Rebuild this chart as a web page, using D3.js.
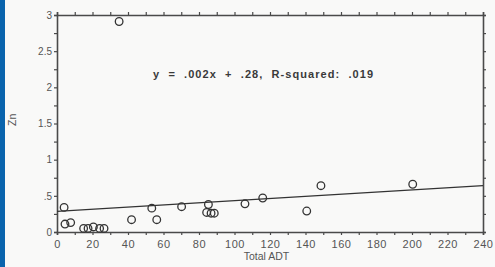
<!DOCTYPE html>
<html>
<head>
<meta charset="utf-8">
<script src="https://cdn.jsdelivr.net/npm/d3@7"></script>
<style>
  body { margin: 0; background: #fff; }
  svg { display: block; font-family: "Liberation Sans", Arial, sans-serif; }
</style>
</head>
<body>
<div class="drawBoard"></div>
<script>
// data
const adt = [35, 4, 4.5, 7.7, 15, 17.5, 20.5, 24, 26.5, 42, 53.4, 56.2, 70.2, 85.3, 84.3, 86.8, 88.6, 105.9, 115.9, 140.7, 148.7, 200.4];
const zn  = [2.91, .34, .11, .13, .05, .05, .07, .05, .05, .17, .33, .17, .35, .38, .27, .26, .26, .39, .47, .29, .64, .66];
const fitX = [0, 240];
const fitY = [.285, .64];
const xTicks = [0, 20, 40, 60, 80, 100, 120, 140, 160, 180, 200, 220, 240];
const yTicks = [0, .5, 1, 1.5, 2, 2.5, 3];
const yTickLabels = ['0', '.5', '1', '1.5', '2', '2.5', '3'];
const note = 'y  =  .002x  +  .28,  R-squared:  .019';

const W = 495, H = 267;
const padL = 57, padR = 483, padT = 15, padB = 232;

const svg = d3.select('.drawBoard').append('svg')
    .attr('width', W)
    .attr('height', H);

svg.append('rect').attr('width', W).attr('height', H).attr('fill', '#f9f9f8');
// blue strip on the left edge of the scan
svg.append('rect').attr('width', 5).attr('height', H).attr('fill', '#0a64ad');

const x = d3.scaleLinear().domain([0, 240]).range([padL, padR]);
const y = d3.scaleLinear().domain([0, 3]).range([padB, padT]);

const ink = '#4a4a4a';
const minorX = d3.range(0, 241, 10);
const minorY = d3.range(0, 3.01, .25);

// bottom axis
const gx = svg.append('g').attr('transform', `translate(0,${padB})`)
    .call(d3.axisBottom(x).tickValues(minorX).tickSize(3)
        .tickFormat(d => xTicks.includes(d) ? d : ''));
// top axis (ticks only)
const gt = svg.append('g').attr('transform', `translate(0,${padT})`)
    .call(d3.axisTop(x).tickValues(minorX).tickSize(3).tickFormat(''));
// left axis
const gy = svg.append('g').attr('transform', `translate(${padL},0)`)
    .call(d3.axisLeft(y).tickValues(minorY).tickSize(3)
        .tickFormat(d => {
            const k = yTicks.findIndex(v => Math.abs(v - d) < 1e-6);
            return k >= 0 ? yTickLabels[k] : '';
        }));
// right axis (ticks only)
const gr = svg.append('g').attr('transform', `translate(${padR},0)`)
    .call(d3.axisRight(y).tickValues(minorY).tickSize(3).tickFormat(''));

[gx, gt, gy, gr].forEach(g => {
    g.select('.domain').attr('stroke', ink).attr('stroke-width', 1.6);
    g.selectAll('.tick line').attr('stroke', ink).attr('stroke-width', 1.2);
    g.selectAll('.tick text').attr('fill', '#555').attr('font-size', 11);
});
gx.selectAll('.tick text').attr('dy', '0.9em').attr('letter-spacing', '0.6px');
gy.selectAll('.tick text').attr('dx', '0.1em').attr('font-size', 10);

// axis titles
svg.append('text')
    .text('Total ADT')
    .attr('x', x(118)).attr('y', 260)
    .attr('text-anchor', 'middle')
    .attr('font-size', 10.5)
    .attr('fill', '#555');

svg.append('text')
    .text('Zn')
    .attr('transform', `translate(16,${y(1.55)}) rotate(-90)`)
    .attr('text-anchor', 'middle')
    .attr('font-size', 10.5)
    .attr('fill', '#555');

// regression line
svg.append('line')
    .attr('x1', x(fitX[0])).attr('y1', y(fitY[0]))
    .attr('x2', x(fitX[1])).attr('y2', y(fitY[1]))
    .attr('stroke', '#333')
    .attr('stroke-width', 1.3);

// points
svg.selectAll('circle.pt')
    .data(adt)
    .enter()
    .append('circle')
    .attr('class', 'pt')
    .attr('cx', d => x(d))
    .attr('cy', (d, i) => y(zn[i]))
    .attr('r', 3.8)
    .attr('fill', 'none')
    .attr('stroke', '#333')
    .attr('stroke-width', 1.3);

svg.append('text')
    .text(note)
    .attr('x', 153).attr('y', 78)
    .attr('font-size', 11)
    .attr('font-weight', 'bold')
    .attr('fill', '#3a3a3a')
    .attr('textLength', 220)
    .attr('lengthAdjust', 'spacing')
    .style('white-space', 'pre');
</script>
</body>
</html>
